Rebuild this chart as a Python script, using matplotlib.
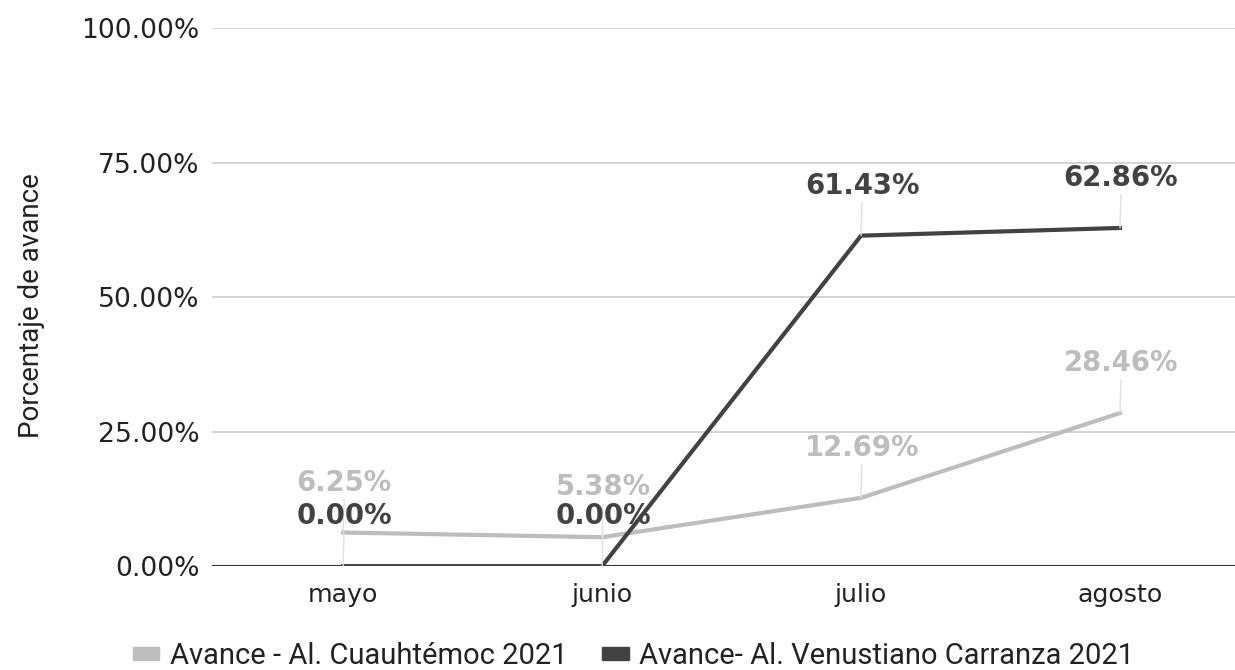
import matplotlib.pyplot as plt
from matplotlib.patches import Patch

plt.rcParams['font.family'] = ['DejaVu Sans']

meses = ["mayo", "junio", "julio", "agosto"]
cuauhtemoc = [6.25, 5.38, 12.69, 28.46]
carranza = [0.00, 0.00, 61.43, 62.86]
yticks = [0, 25, 50, 75, 100]

color_claro = "#bdbdbd"
color_oscuro = "#424242"

fig = plt.figure(figsize=(12.35, 6.7), dpi=100)
ax = fig.add_axes([0.1717, 0.155, 0.8283, 0.803])

x = list(range(len(meses)))
ax.plot(x, cuauhtemoc, color=color_claro, lw=3, zorder=3)
ax.plot(x, carranza, color=color_oscuro, lw=3, zorder=4)

# etiquetas con línea guía
for serie, color in [(cuauhtemoc, color_claro), (carranza, color_oscuro)]:
    for xi, v in zip(x, serie):
        ax.annotate(f"{v:.2f}%", xy=(xi, v), xytext=(0.7, 36), textcoords="offset points",
                    ha="center", va="center", fontsize=19.8, fontweight="bold", color=color,
                    arrowprops=dict(arrowstyle="-", color="#e0e0e0", lw=1,
                                    shrinkA=0, shrinkB=0, relpos=(0.5, 0)),
                    zorder=5)

ax.set_xlim(-0.506, 3.444)
ax.set_ylim(0, 100)
ax.set_yticks(yticks)
ax.set_yticklabels([f"{t:.2f}%" for t in yticks])
ax.set_xticks(x)
ax.set_xticklabels(meses)
ax.grid(axis="y", color="#cccccc", lw=1.2)
ax.axhline(0, color="#333333", lw=1.5, zorder=2)
ax.set_axisbelow(True)
for s in ax.spines.values():
    s.set_visible(False)
ax.tick_params(axis="both", length=0, colors="#222222")
ax.tick_params(axis="y", pad=9, labelsize=19.2)
ax.tick_params(axis="x", pad=12, labelsize=18.2)
ax.set_ylabel("Porcentaje de avance", fontsize=20, color="#222222", labelpad=20,
              family=["Roboto", "DejaVu Sans"])
ax.yaxis.set_label_coords(-0.163, 0.485)

handles = [Patch(color=color_claro, label="Avance - Al. Cuauhtémoc 2021"),
           Patch(color=color_oscuro, label="Avance- Al. Venustiano Carranza 2021")]
fig.legend(handles=handles, loc="lower center", bbox_to_anchor=(0.513, 0.0), ncol=2,
           frameon=False, handlelength=0.9, handleheight=0.28,
           handletextpad=0.35, columnspacing=1.2, labelcolor="#222222",
           borderpad=0, borderaxespad=0,
           prop=dict(family=["Roboto", "DejaVu Sans"], size=21))

plt.savefig("out.png", dpi=100)
